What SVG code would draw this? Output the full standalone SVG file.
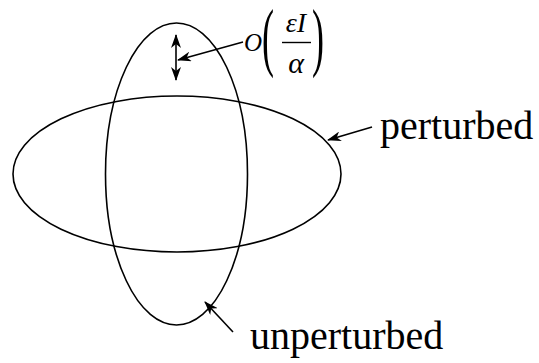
<svg xmlns="http://www.w3.org/2000/svg" width="539" height="363" viewBox="0 0 539 363">
<style>
.curve{fill:none;stroke:#000;stroke-width:1.6}
.conn{fill:none;stroke:#000;stroke-width:1.6}
.lbl{font-family:"Liberation Serif","Times New Roman",serif;fill:#000}
.math{font-family:"Liberation Serif","Times New Roman",serif;font-style:italic;fill:#000}
</style>
<defs>
<marker id="ah" viewBox="0 0 14 10" refX="13" refY="5" markerWidth="14" markerHeight="10" markerUnits="userSpaceOnUse" orient="auto-start-reverse">
<path d="M0,0 L14,5 L0,10 L4,5 Z" fill="#000"/>
</marker>
</defs>
<rect width="539" height="363" fill="#fff"/>
<g id="unperturbed-curve"><ellipse class="curve" cx="176.5" cy="174" rx="71" ry="151"/></g>
<g id="perturbed-curve"><ellipse class="curve" cx="177" cy="174" rx="164" ry="78"/></g>
<g id="label-order">
<text class="math" x="244" y="51" font-size="25">O</text>
<text class="lbl" transform="translate(262,61.6) scale(1,2.1)" font-size="36">(</text>
<text class="math" x="296" y="32" font-size="28" text-anchor="middle">εI</text>
<line x1="282" y1="42.5" x2="311" y2="42.5" stroke="#000" stroke-width="1.4"/>
<text class="math" x="296" y="73" font-size="30" text-anchor="middle">α</text>
<text class="lbl" transform="translate(312,61.6) scale(1,2.1)" font-size="36">)</text>
</g>
<g id="label-perturbed"><text class="lbl" x="380" y="139" font-size="40">perturbed</text></g>
<g id="label-unperturbed"><text class="lbl" x="250" y="349" font-size="40">unperturbed</text></g>
<g id="connectors">
<line class="conn" x1="176" y1="35" x2="176" y2="80" marker-start="url(#ah)" marker-end="url(#ah)"/>
<line class="conn" x1="243" y1="42" x2="178" y2="60" marker-end="url(#ah)"/>
<line class="conn" x1="372" y1="127" x2="328" y2="140" marker-end="url(#ah)"/>
<line class="conn" x1="233" y1="332" x2="205" y2="302" marker-end="url(#ah)"/>
</g>
</svg>
